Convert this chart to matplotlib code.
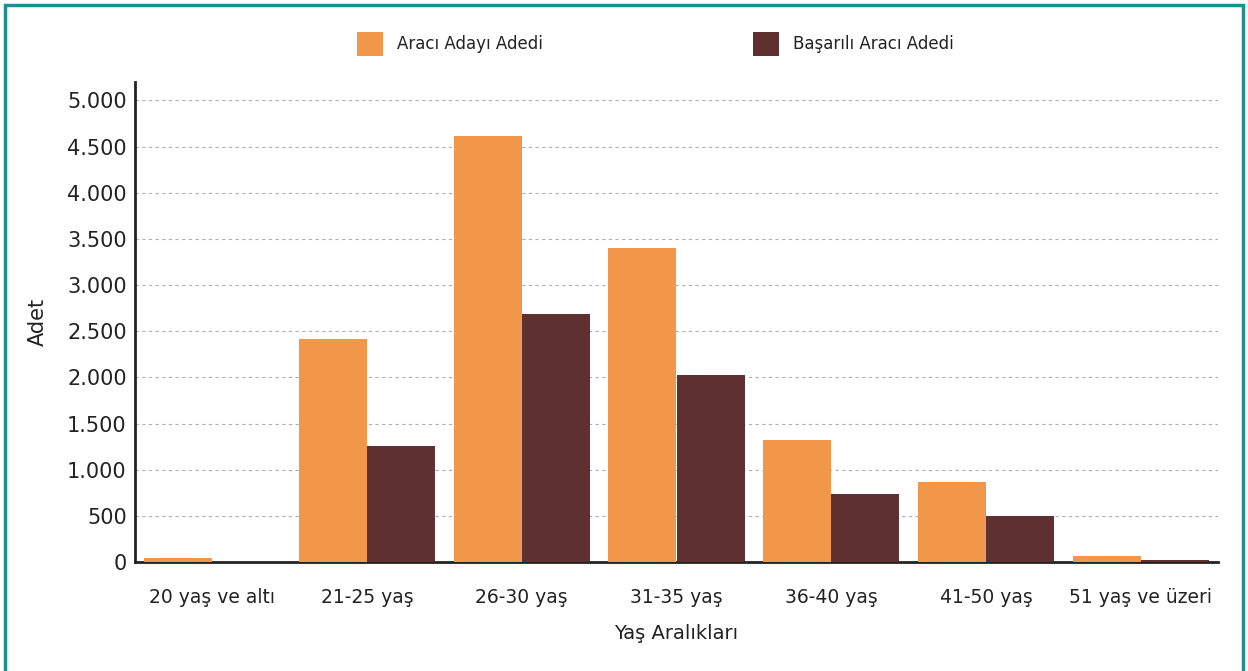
import matplotlib.pyplot as plt
from matplotlib.patches import Rectangle
import numpy as np

# Age ranges and counts
categories = ["20 yaş ve altı", "21-25 yaş", "26-30 yaş", "31-35 yaş",
              "36-40 yaş", "41-50 yaş", "51 yaş ve üzeri"]
adaylar = [40, 2420, 4610, 3400, 1320, 866, 65]
basarili = [5, 1255, 2684, 2024, 736, 498, 25]
yticks = [0, 500, 1000, 1500, 2000, 2500, 3000, 3500, 4000, 4500, 5000]
ytick_labels = ["0", "500", "1.000", "1.500", "2.000", "2.500", "3.000",
                "3.500", "4.000", "4.500", "5.000"]

ORANGE = "#f2974a"
BROWN = "#5e3030"
TEXT = "#222222"

plt.rcParams["font.family"] = ["DejaVu Sans"]

fig = plt.figure(figsize=(12.48, 6.71), dpi=100)
ax = fig.add_axes([135 / 1248, 1 - 562 / 671, (1218 - 135) / 1248, (562 - 82) / 671])

x = np.arange(len(categories))
w = 0.44
ax.bar(x - w / 2, adaylar, w, color=ORANGE, label="Aracı Adayı Adedi", zorder=3)
ax.bar(x + w / 2, basarili, w, color=BROWN, label="Başarılı Aracı Adedi", zorder=3)

ax.set_xlim(-0.5, len(categories) - 0.5)
ax.set_ylim(0, 5200)
ax.set_yticks(yticks)
ax.set_yticklabels(ytick_labels, fontsize=15, color=TEXT)
ax.set_xticks(x)
ax.set_xticklabels(categories, fontsize=13.5, color=TEXT)
ax.tick_params(axis="both", length=0)
ax.tick_params(axis="x", pad=19)
ax.tick_params(axis="y", pad=6)

ax.grid(axis="y", color="#b0b0b0", linestyle=(0, (3, 3)), linewidth=0.8, zorder=0)
for s in ["top", "right"]:
    ax.spines[s].set_visible(False)
ax.spines["left"].set_linewidth(2)
ax.spines["bottom"].set_linewidth(2)
ax.spines["left"].set_color(TEXT)
ax.spines["bottom"].set_color(TEXT)

ax.set_xlabel("Yaş Aralıkları", fontsize=14, color=TEXT, labelpad=12)
ax.set_ylabel("Adet", fontsize=15, color=TEXT, labelpad=14)

fig.legend(loc="center", bbox_to_anchor=(655 / 1248, 1 - 44 / 671), ncol=2,
           frameon=False, fontsize=12, handlelength=1.6, handleheight=1.75,
           columnspacing=12.6, handletextpad=0.8, labelcolor=TEXT)

# teal frame around the figure
fig.patches.append(Rectangle((5 / 1248, -0.01), 1238 / 1248, 1 - 5 / 671 + 0.01,
                             transform=fig.transFigure, fill=False,
                             edgecolor="#1f8f8f", linewidth=2.5))

fig.savefig("out.png", dpi=100)
